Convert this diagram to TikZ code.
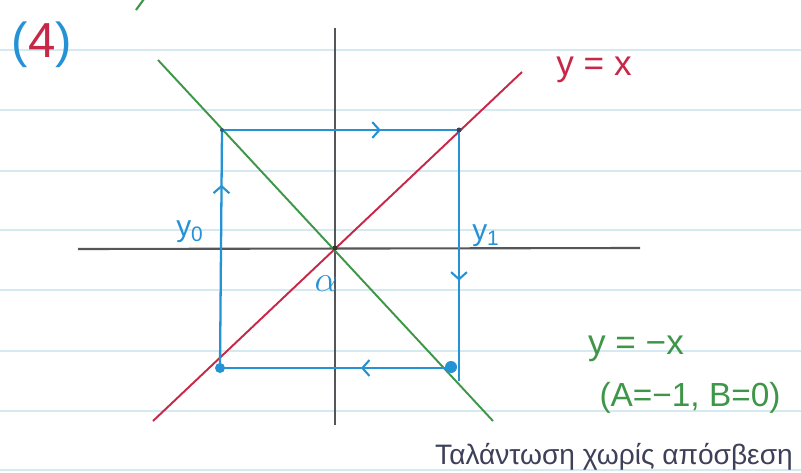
\documentclass[tikz,border=0pt]{standalone}
\usepackage{fontspec}
\setmainfont{Liberation Sans}
\usetikzlibrary{calc, arrows.meta, decorations.markings}
\definecolor{penblue}{RGB}{38,146,214}
\definecolor{penred}{RGB}{200,40,72}
\definecolor{pengreen}{RGB}{62,150,72}
\definecolor{pengray}{RGB}{85,85,90}
\definecolor{paper}{RGB}{212,234,240}
\definecolor{inkdark}{RGB}{60,64,88}

\begin{document}
\begin{tikzpicture}[x=0.02cm,y=-0.02cm]

    \tikzset{ruleline/.style={draw=paper, line width=0.9pt},
             axis/.style={draw=pengray, line width=1.2pt},
             redline/.style={draw=penred, line width=1.1pt},
             greenline/.style={draw=pengreen, line width=1.1pt},
             loopedge/.style={draw=penblue, line width=1.3pt},
             midtip/.style={postaction={decorate}, decoration={markings,
               mark=at position #1 with {\arrow{Straight Barb[length=4pt,width=9pt,line width=1.2pt]}}}},
             hand/.style={inner sep=0pt, font=\fontsize{20}{22}\selectfont}}

    \useasboundingbox (0,0) rectangle (801,473);
    \fill[white] (0,0) rectangle (801,473);

    % ruled paper
    \foreach \yy in {50,110,171,230,290,351,411,470}
      \draw[ruleline] (0,\yy) -- (801,\yy);

    % axes
    \coordinate (xl) at (78,249);
    \coordinate (xr) at (640,248);
    \coordinate (yt) at (335,28);
    \coordinate (yb) at (335,425);
    \coordinate (O) at (335,248);
    \draw[axis] (xl) -- (xr);
    \draw[axis] (yt) -- (yb);

    % y = x and y = -x
    \coordinate (r0) at (153,421);
    \coordinate (r1) at (522,72);
    \coordinate (g0) at (158,60);
    \coordinate (g1) at (493,421);
    \draw[redline] (r0) -- (r1);
    \draw[greenline] (g0) -- (g1);
    \draw[pengreen, line width=1.2pt] (136,10) -- (144,-1);

    % closed loop
    \coordinate (c0) at (222,130);
    \coordinate (c1) at (459,130);
    \coordinate (rend) at (459,381);
    \coordinate (c2) at (455,368);
    \coordinate (c3) at (220,368);
    \draw[loopedge, midtip=0.67] (c0) -- (c1);
    \draw[loopedge, midtip=0.60] (c1) -- (rend);
    \draw[loopedge, midtip=0.40] (c2) -- (c3);
    \draw[loopedge, midtip=0.77] (c3) -- (c0);

    \fill[penblue] (c3) circle (5);
    \fill[penblue] ($(c2)+(-4,-1)$) circle (6);
    \fill[inkdark] (c1) circle (2.5);
    \fill[inkdark!70!penblue] (c0) circle (2);
    \fill[black!80] (O) circle (2.5);

    % labels
    \node[hand, text=penblue] (lbl0) at (42,45) {\fontsize{28}{30}\selectfont(\textcolor{penred}{4})};
    \node[hand, text=penred] (eqred) at (594,70) {y = x};
    \node[hand, text=pengreen] (eqgreen) at (636,349) {y = −x};
    \node[hand, text=pengreen, font=\fontsize{19}{21}\selectfont] (eqab) at (690,398) {(A=−1, B=0)};
    \node[hand, text=penblue, font=\fontsize{17}{19}\selectfont] (ylo) at (190,232) {y\textsubscript{0}};
    \node[hand, text=penblue, font=\fontsize{17}{19}\selectfont] (yhi) at (486,236) {y\textsubscript{1}};
    \node[hand, text=penblue] (alph) at (326,284) {$\alpha$};
    \node[hand, text=inkdark, font=\fontsize{16}{18}\selectfont] (note) at (614,457) {Ταλάντωση χωρίς απόσβεση};

\end{tikzpicture}
\end{document}
